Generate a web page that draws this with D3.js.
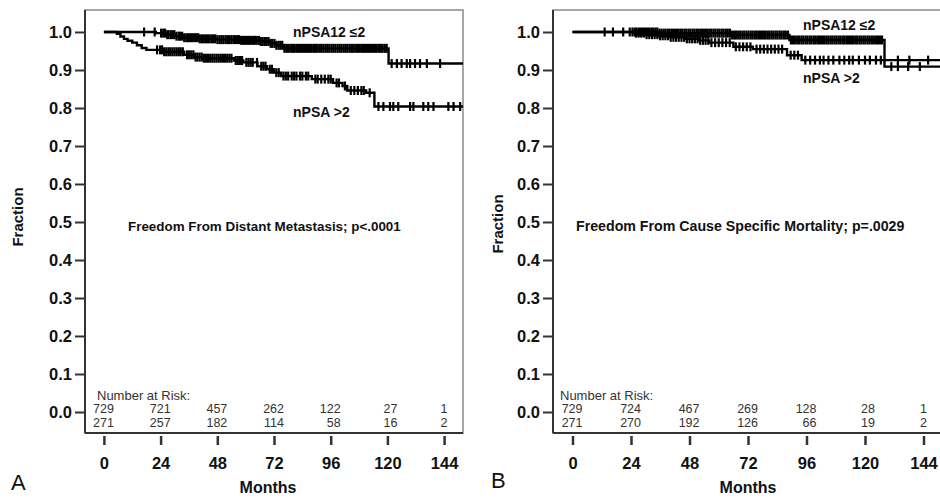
<!DOCTYPE html>
<html><head><meta charset="utf-8">
<script src="https://cdn.jsdelivr.net/npm/d3@7"></script>
<style>
html,body{margin:0;padding:0;background:#fff;}
svg{display:block;font-family:"Liberation Sans",Arial,sans-serif;}
</style></head>
<body><svg id="chart" width="940" height="500"></svg>
<script>
// ---------- DATA ----------
const monthTicks = [0, 24, 48, 72, 96, 120, 144];
const fractionTicks = [0, 0.1, 0.2, 0.3, 0.4, 0.5, 0.6, 0.7, 0.8, 0.9, 1.0];
const fractionLabels = ["0.0","0.1","0.2","0.3","0.4","0.5","0.6","0.7","0.8","0.9","1.0"];
const groupNames = ["nPSA12 \u22642", "nPSA >2"];

// Panel A: distant metastasis
const stepsA_low = [[0,1.0],[22,0.997],[26,0.993],[30,0.989],[34,0.985],[40,0.982],[48,0.980],[58,0.978],[66,0.975],[70,0.970],[73,0.965],[76,0.957],[120.5,0.917]];
const stepsA_high = [[0,1.0],[5.5,0.995],[7,0.988],[8.5,0.982],[10,0.977],[12,0.972],[14,0.965],[16,0.958],[18,0.953],[25,0.948],[34,0.940],[38,0.934],[42,0.931],[55,0.925],[59,0.920],[65,0.910],[69,0.902],[72,0.893],[75,0.884],[88,0.876],[97,0.866],[101,0.858],[103,0.846],[111,0.840],[114.5,0.804]];
const censorA_low = [17,21.5,24.2,25.1,25.9,26.8,27.4,28.3,29.1,29.8,30.7,31.6,32.2,33.1,34.0,34.9,35.6,36.5,37.3,38.2,39.0,39.9,40.6,41.5,42.3,43.2,44.0,44.8,45.7,46.5,47.2,48.1,49.0,49.8,50.6,51.5,52.3,53.0,53.9,54.8,55.5,56.4,57.2,58.1,58.9,59.7,60.6,61.4,62.2,63.1,63.9,64.7,65.6,66.4,67.2,68.1,68.9,69.7,70.6,71.3,72.2,73.0,73.9,74.7,75.5,76.4,77.2,78.0,78.9,79.7,80.5,81.4,82.2,83.0,83.9,84.7,85.5,86.4,87.2,88.0,88.9,89.7,90.5,91.4,92.2,93.0,93.9,94.7,95.5,96.4,97.2,98.0,98.9,99.7,100.5,101.4,102.2,103.0,103.9,104.7,105.5,106.4,107.2,108.0,108.9,109.7,110.5,111.4,112.2,113.0,113.9,114.7,115.5,116.4,117.2,118.0,118.9,119.7,121.8,124,126,128.2,129.6,131.7,133.8,136.7,142.3];
const censorA_high = [22.5,23.8,24.6,25.5,26.4,27.3,28.1,29.0,29.9,30.8,31.7,32.5,33.4,35.2,36.1,37.0,37.9,38.8,39.6,40.5,41.4,42.3,43.2,44.1,45.0,45.9,46.8,47.7,48.6,49.5,50.4,51.3,52.2,53.1,54.0,55.8,56.7,57.6,58.5,60.3,61.2,62.1,63.0,64.8,66.6,67.5,68.4,70.2,71.1,73.0,74.0,76.0,77.0,78.0,79.5,80.5,81.5,83.0,84.0,85.5,86.5,89.5,90.5,92.0,93.5,95.0,96.0,98.5,99.5,102,104.5,106,107.5,109,110,112.5,116.2,118.3,121.1,122.5,124.6,129.6,131,135.2,137.3,139.5,145.8,148,150.8];
const riskA_low = [729, 721, 457, 262, 122, 27, 1];
const riskA_high = [271, 257, 182, 114, 58, 16, 2];
const titleA = "Freedom From Distant Metastasis; p<.0001";

// Panel B: cause specific mortality
const stepsB_low = [[0,1.0],[35,0.997],[65,0.992],[89,0.979],[128,0.909]];
const stepsB_high = [[0,1.0],[25,0.997],[30,0.993],[35,0.990],[40,0.986],[46,0.982],[52,0.978],[56,0.972],[66,0.961],[74,0.955],[88,0.939],[94,0.926]];
const censorB_low = [13.2,16.6,20.8,23.5,24.6,25.5,26.3,27.2,28.0,28.9,29.7,30.6,31.4,32.3,33.1,34.0,34.8,35.7,36.5,37.4,38.2,39.1,39.9,40.8,41.6,42.5,43.3,44.2,45.0,45.9,46.7,47.6,48.4,49.3,50.1,51.0,51.8,52.7,53.5,54.4,55.2,56.1,56.9,57.8,58.6,59.5,60.3,61.2,62.0,62.9,63.7,64.6,65.4,66.3,67.1,68.0,68.8,69.7,70.5,71.4,72.2,73.1,73.9,74.8,75.6,76.5,77.3,78.2,79.0,79.9,80.7,81.6,82.4,83.3,84.1,85.0,85.8,86.7,87.5,88.4,89.6,90.5,91.3,92.2,93.0,93.9,94.7,95.6,96.4,97.3,98.1,99.0,99.8,100.7,101.5,102.4,103.2,104.1,104.9,105.8,106.6,107.5,108.3,109.2,110.0,110.9,111.7,112.6,113.4,114.3,115.1,116.0,116.8,117.7,118.5,119.4,120.2,121.1,121.9,122.8,123.6,124.5,125.3,126.2,127.0,130.8,133.5,137.7,142.5];
const censorB_high = [26.0,27.1,28.2,29.3,30.4,31.5,32.6,33.7,34.8,35.9,37.0,38.1,39.2,40.3,41.4,42.5,43.6,44.7,45.8,46.9,48.0,49.1,50.2,51.3,52.4,53.5,54.6,55.7,57.0,58.5,60.0,61.5,63.0,64.5,67.0,68.5,70.0,71.5,73.0,75.5,77.0,78.5,80.0,81.5,83.0,84.5,86.0,89.5,91.0,92.5,95.5,97.5,99.5,101.5,103.0,105.0,107.0,109.5,111.5,113.5,115.0,117.5,120.0,122.0,124.5,126.5,133.5,138.2,145.9];
const riskB_low = [729, 724, 467, 269, 128, 28, 1];
const riskB_high = [271, 270, 192, 126, 66, 19, 2];
const titleB = "Freedom From Cause Specific Mortality; p=.0029";

// ---------- DRAW ----------
const svg = d3.select("#chart");
const FONT = '"Liberation Sans",Arial,sans-serif';

function stepValue(steps, t) {
  let v = steps[0][1];
  for (const s of steps) { if (s[0] <= t) v = s[1]; else break; }
  return v;
}

function panel(cfg) {
  const g = svg.append("g");
  const x = d3.scaleLinear().domain([-8, 152]).range([cfg.left, cfg.right]);
  const y = d3.scaleLinear().domain([0, 1]).range([412, 32]);
  const top = 10, bottom = 433;

  // box
  g.append("rect").attr("x", cfg.left).attr("y", top)
    .attr("width", cfg.right - cfg.left).attr("height", bottom - top)
    .attr("fill", "none").attr("stroke", "#8a8a8a").attr("stroke-width", 1.5);
  g.append("line").attr("x1", cfg.left).attr("x2", cfg.left).attr("y1", top).attr("y2", bottom)
    .attr("stroke", "#333").attr("stroke-width", 2);
  g.append("line").attr("x1", cfg.left).attr("x2", cfg.right).attr("y1", bottom).attr("y2", bottom)
    .attr("stroke", "#333").attr("stroke-width", 2);

  // y axis
  const yAxis = d3.axisLeft(y).tickValues(fractionTicks)
    .tickFormat((d, i) => fractionLabels[i]).tickSize(10).tickPadding(3);
  const ya = g.append("g").attr("transform", `translate(${cfg.left},0)`).call(yAxis);
  ya.select(".domain").remove();
  ya.selectAll(".tick line").attr("stroke", "#333").attr("stroke-width", 2);
  ya.selectAll(".tick text").attr("font-family", FONT).attr("font-size", 16.5)
    .attr("font-weight", "bold").attr("fill", "#111");

  // x axis (offset below box)
  const xAxis = d3.axisBottom(x).tickValues(monthTicks).tickSize(9).tickPadding(12);
  const xa = g.append("g").attr("transform", `translate(0,${bottom + 3})`).call(xAxis);
  xa.select(".domain").remove();
  xa.selectAll(".tick line").attr("stroke", "#333").attr("stroke-width", 2.5);
  xa.selectAll(".tick text").attr("font-family", FONT).attr("font-size", 16.5)
    .attr("font-weight", "bold").attr("fill", "#111");

  g.append("text").attr("x", x(72) + cfg.monthsShift).attr("y", 493).attr("text-anchor", "middle")
    .attr("font-family", FONT).attr("font-size", 16).attr("font-weight", "bold").attr("fill", "#111")
    .text("Months");
  g.append("text").attr("transform", `translate(${cfg.fracX},${cfg.fracY}) rotate(-90)`)
    .attr("text-anchor", "middle").attr("dominant-baseline", "central")
    .attr("font-family", FONT).attr("font-size", 15).attr("font-weight", "bold").attr("fill", "#111")
    .text("Fraction");
  g.append("text").attr("x", cfg.letterX).attr("y", cfg.letterY)
    .attr("font-family", FONT).attr("font-size", 22).attr("fill", "#111").text(cfg.letter);

  // curves
  const line = d3.line().x(d => x(d[0])).y(d => y(d[1])).curve(d3.curveStepAfter);
  [cfg.stepsLow, cfg.stepsHigh].forEach(st => {
    const pts = st.concat([[152, st[st.length - 1][1]]]);
    g.append("path").attr("d", line(pts)).attr("fill", "none")
      .attr("stroke", "#000").attr("stroke-width", 2.4);
  });
  [[cfg.stepsLow, cfg.censorLow], [cfg.stepsHigh, cfg.censorHigh]].forEach(([st, cs]) => {
    g.append("g").selectAll("line").data(cs).join("line")
      .attr("x1", d => x(d)).attr("x2", d => x(d))
      .attr("y1", d => y(stepValue(st, d)) - 4.5).attr("y2", d => y(stepValue(st, d)) + 4.5)
      .attr("stroke", "#000").attr("stroke-width", 2.2);
  });

  // group labels
  g.append("text").attr("x", cfg.lab1[0]).attr("y", cfg.lab1[1]).attr("dominant-baseline", "central")
    .attr("font-family", FONT).attr("font-size", 14).attr("font-weight", "bold").attr("fill", "#111")
    .text(groupNames[0]);
  g.append("text").attr("x", cfg.lab2[0]).attr("y", cfg.lab2[1]).attr("dominant-baseline", "central")
    .attr("font-family", FONT).attr("font-size", 14).attr("font-weight", "bold").attr("fill", "#111")
    .text(groupNames[1]);

  // annotation
  g.append("text").attr("x", cfg.titleX).attr("y", 226).attr("dominant-baseline", "central")
    .attr("font-family", FONT).attr("font-size", cfg.titleSize).attr("font-weight", "bold").attr("fill", "#111")
    .text(cfg.title);

  // number at risk
  g.append("text").attr("x", cfg.left + cfg.riskPad).attr("y", 395).attr("dominant-baseline", "central")
    .attr("font-family", FONT).attr("font-size", 13).attr("fill", "#333").text("Number at Risk:");
  [[cfg.riskLow, 409], [cfg.riskHigh, 423]].forEach(([arr, yy]) => {
    g.append("g").selectAll("text").data(arr).join("text")
      .attr("x", (d, i) => i === monthTicks.length - 1 ? x(monthTicks[i]) : x(monthTicks[i]) + 10)
      .attr("y", yy).attr("dominant-baseline", "central")
      .attr("text-anchor", (d, i) => i === monthTicks.length - 1 ? "middle" : "end")
      .attr("font-family", FONT).attr("font-size", 12.5).attr("fill", "#333")
      .text(d => d);
  });
}

panel({
  left: 85, right: 463, letter: "A", letterX: 11, letterY: 490, fracX: 17, fracY: 217, monthsShift: -6,
  stepsLow: stepsA_low, stepsHigh: stepsA_high, censorLow: censorA_low, censorHigh: censorA_high,
  riskLow: riskA_low, riskHigh: riskA_high, title: titleA, titleX: 128, titleSize: 13.4, riskPad: 12,
  lab1: [293, 32], lab2: [293, 112]
});
panel({
  left: 553, right: 943, letter: "B", letterX: 491, letterY: 488, fracX: 497, fracY: 224, monthsShift: 0,
  stepsLow: stepsB_low, stepsHigh: stepsB_high, censorLow: censorB_low, censorHigh: censorB_high,
  riskLow: riskB_low, riskHigh: riskB_high, title: titleB, titleX: 576, titleSize: 14.2, riskPad: 7,
  lab1: [803, 25], lab2: [803, 78]
});
</script></body></html>
